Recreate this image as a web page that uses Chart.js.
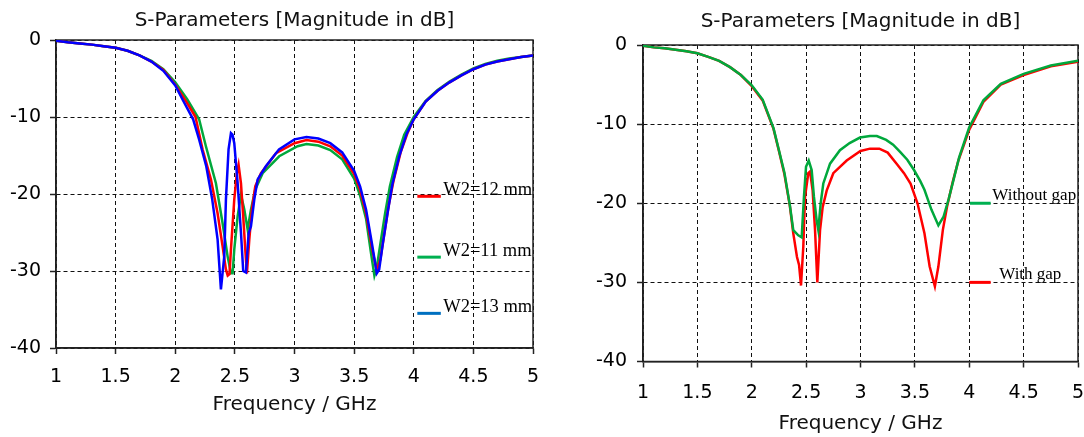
<!DOCTYPE html>
<html>
<head>
<meta charset="utf-8">
<script src="https://cdn.jsdelivr.net/npm/chart.js@4.4.1/dist/chart.umd.min.js"></script>
<style>
  body { margin: 0; background: #fff; }
  #kiri { position: absolute; left: 0; top: 0; }
  #kanan { position: absolute; left: 545px; top: 0; }
</style>
</head>
<body>
<canvas id="kiri" width="545" height="437"></canvas>
<canvas id="kanan" width="539" height="437"></canvas>
<script>
// tick labels
const xTicks = [1, 1.5, 2, 2.5, 3, 3.5, 4, 4.5, 5];
const yTicks = [-40, -30, -20, -10, 0];

// kiri: W2 = 13 mm (biru)
const fW13 = [1.0, 1.1, 1.2, 1.3, 1.4, 1.5, 1.6, 1.7, 1.8, 1.9, 2.0, 2.06, 2.15, 2.2, 2.26, 2.31, 2.355, 2.383, 2.411, 2.425, 2.447, 2.467, 2.48, 2.495, 2.523, 2.551, 2.57, 2.593, 2.615, 2.635, 2.663, 2.691, 2.76, 2.87, 3.0, 3.1, 3.2, 3.3, 3.4, 3.5, 3.55, 3.6, 3.65, 3.69, 3.71, 3.74, 3.78, 3.82, 3.88, 3.94, 4.0, 4.1, 4.2, 4.3, 4.4, 4.5, 4.6, 4.7, 4.8, 4.9, 5.0];
const dbW13 = [-0.1, -0.3, -0.45, -0.6, -0.8, -1.0, -1.4, -2.0, -2.8, -4.0, -5.9, -7.7, -10.3, -12.9, -16.4, -20.7, -25.9, -32.4, -28.1, -20.7, -14.2, -12.1, -12.3, -13.4, -18.6, -25.0, -30.0, -30.2, -25.1, -24.2, -20.7, -18.1, -16.4, -14.2, -12.9, -12.6, -12.8, -13.4, -14.6, -17.0, -19.0, -22.0, -26.5, -30.3, -29.8, -26.5, -22.5, -18.8, -15.0, -12.2, -10.3, -8.0, -6.6, -5.5, -4.6, -3.8, -3.2, -2.8, -2.5, -2.2, -2.0];

// kiri: W2 = 12 mm (merah)
const fW12 = [1.0, 1.1, 1.2, 1.3, 1.4, 1.5, 1.6, 1.7, 1.8, 1.9, 2.0, 2.1, 2.17, 2.229, 2.299, 2.355, 2.397, 2.425, 2.44, 2.455, 2.467, 2.495, 2.517, 2.531, 2.551, 2.57, 2.587, 2.601, 2.621, 2.643, 2.671, 2.719, 2.845, 3.0, 3.1, 3.2, 3.3, 3.4, 3.5, 3.55, 3.6, 3.65, 3.69, 3.72, 3.75, 3.79, 3.83, 3.89, 3.95, 4.0, 4.1, 4.2, 4.3, 4.4, 4.5, 4.6, 4.7, 4.8, 4.9, 5.0];
const dbW12 = [-0.1, -0.3, -0.45, -0.6, -0.8, -1.0, -1.4, -2.0, -2.8, -3.9, -5.8, -8.2, -10.0, -14.2, -18.1, -22.5, -26.8, -29.8, -30.6, -30.4, -27.2, -20.7, -17.3, -16.2, -18.6, -22.9, -27.2, -30.3, -25.9, -22.0, -19.0, -17.3, -14.7, -13.4, -13.0, -13.2, -13.8, -15.0, -17.4, -19.5, -22.5, -27.0, -30.0, -28.5, -25.5, -21.5, -18.3, -14.6, -12.0, -10.3, -8.0, -6.6, -5.5, -4.6, -3.8, -3.2, -2.8, -2.5, -2.2, -2.0];

// kiri: W2 = 11 mm (hijau)
const fW11 = [1.0, 1.1, 1.2, 1.3, 1.4, 1.5, 1.6, 1.7, 1.8, 1.9, 2.0, 2.1, 2.2, 2.257, 2.341, 2.397, 2.439, 2.467, 2.481, 2.495, 2.523, 2.551, 2.579, 2.607, 2.635, 2.671, 2.733, 2.872, 3.026, 3.1, 3.2, 3.3, 3.4, 3.5, 3.55, 3.6, 3.64, 3.67, 3.69, 3.72, 3.76, 3.8, 3.86, 3.92, 4.0, 4.1, 4.2, 4.3, 4.4, 4.5, 4.6, 4.7, 4.8, 4.9, 5.0];
const dbW11 = [-0.1, -0.3, -0.45, -0.6, -0.8, -1.0, -1.4, -2.0, -2.7, -3.8, -5.5, -7.7, -10.3, -13.8, -18.6, -23.8, -28.1, -30.3, -30.3, -27.2, -22.9, -20.1, -22.0, -24.6, -22.0, -19.4, -17.3, -15.1, -13.8, -13.5, -13.7, -14.3, -15.5, -18.0, -20.2, -23.2, -27.5, -30.6, -29.5, -26.5, -22.5, -19.0, -15.2, -12.3, -10.0, -7.9, -6.5, -5.4, -4.5, -3.7, -3.1, -2.7, -2.4, -2.2, -2.0];

// kanan: With gap (merah)
const fGap = [1.0, 1.1, 1.2, 1.3, 1.4, 1.5, 1.6, 1.7, 1.8, 1.9, 2.0, 2.1, 2.2, 2.25, 2.3, 2.35, 2.382, 2.416, 2.435, 2.453, 2.474, 2.49, 2.52, 2.536, 2.56, 2.582, 2.603, 2.628, 2.652, 2.689, 2.75, 2.873, 3.0, 3.087, 3.173, 3.25, 3.332, 3.4, 3.46, 3.524, 3.588, 3.636, 3.684, 3.716, 3.757, 3.796, 3.85, 3.9, 4.0, 4.13, 4.29, 4.5, 4.75, 5.0];
const dbGap = [-0.1, -0.3, -0.4, -0.6, -0.8, -1.05, -1.5, -2.0, -2.8, -3.8, -5.2, -7.0, -10.6, -13.4, -16.3, -20.3, -23.8, -26.8, -27.8, -30.4, -25.5, -19.2, -16.2, -16.0, -18.4, -23.4, -30.0, -23.4, -20.5, -18.4, -16.2, -14.6, -13.4, -13.1, -13.1, -13.6, -15.0, -16.2, -17.5, -20.0, -23.8, -28.0, -30.5, -28.0, -23.4, -20.4, -17.2, -14.6, -10.7, -7.2, -5.0, -3.8, -2.7, -2.1];

// kanan: Without gap (hijau)
const fNoGap = [1.0, 1.1, 1.2, 1.3, 1.4, 1.5, 1.6, 1.7, 1.8, 1.9, 2.0, 2.1, 2.2, 2.25, 2.3, 2.35, 2.382, 2.428, 2.459, 2.48, 2.499, 2.524, 2.551, 2.572, 2.597, 2.612, 2.634, 2.658, 2.72, 2.811, 2.9, 2.995, 3.087, 3.15, 3.236, 3.3, 3.364, 3.43, 3.492, 3.55, 3.588, 3.652, 3.716, 3.764, 3.812, 3.86, 3.907, 4.0, 4.13, 4.29, 4.5, 4.75, 5.0];
const dbNoGap = [-0.1, -0.3, -0.4, -0.6, -0.8, -1.05, -1.5, -2.0, -2.8, -3.8, -5.1, -6.9, -10.5, -13.3, -16.1, -20.2, -23.4, -24.05, -24.3, -19.2, -15.4, -14.6, -15.8, -19.2, -22.2, -23.4, -20.0, -17.5, -15.0, -13.3, -12.4, -11.7, -11.5, -11.5, -12.0, -12.6, -13.5, -14.5, -15.8, -17.2, -18.3, -20.8, -22.8, -21.7, -19.4, -16.8, -14.2, -10.4, -7.0, -4.9, -3.65, -2.6, -2.0];

const FONT = 'DejaVu Sans';
const titleText = 'S-Parameters [Magnitude in dB]';

function titik(fs, ds) {
  return fs.map((f, i) => ({ x: f, y: ds[i] }));
}

function garis(label, fs, ds, warna) {
  return {
    label: label,
    data: titik(fs, ds),
    borderColor: warna,
    borderWidth: 2.5,
    pointRadius: 0,
    tension: 0,
    fill: false
  };
}

// kotak hitam di sekeliling area plot
const bingkai = {
  id: 'bingkai',
  beforeDatasetsDraw(chart) {
    const a = chart.chartArea;
    const ctx = chart.ctx;
    ctx.save();
    ctx.strokeStyle = '#222';
    ctx.lineWidth = 1.5;
    ctx.strokeRect(a.left, a.top, a.right - a.left, a.bottom - a.top);
    ctx.restore();
  }
};

// legenda di dalam plot (garis pendek + teks)
const legendaDalam = {
  id: 'legendaDalam',
  afterDatasetsDraw(chart, args, opts) {
    const ctx = chart.ctx;
    const sx = chart.scales.x, sy = chart.scales.y;
    opts.items.forEach(it => {
      const yy = sy.getPixelForValue(it.at);
      ctx.save();
      ctx.strokeStyle = it.color;
      ctx.lineWidth = 3;
      ctx.beginPath();
      ctx.moveTo(sx.getPixelForValue(it.from), yy);
      ctx.lineTo(sx.getPixelForValue(it.to), yy);
      ctx.stroke();
      ctx.fillStyle = '#000';
      ctx.font = opts.size + 'px "Liberation Serif"';
      ctx.textBaseline = 'alphabetic';
      ctx.textAlign = 'left';
      ctx.fillText(it.text, sx.getPixelForValue(it.textAt), yy + it.dy);
      ctx.restore();
    });
  }
};

function opsi(c) {
  return {
    responsive: false,
    animation: false,
    layout: { padding: { left: 0, right: c.padRight, top: 0, bottom: 0 } },
    plugins: {
      legend: { display: false },
      tooltip: { enabled: false },
      title: {
        display: true,
        text: titleText,
        fullSize: false,
        color: '#111',
        font: { family: FONT, size: 20, weight: 'normal' },
        padding: { top: c.titleTop, bottom: c.titleBottom }
      },
      legendaDalam: { size: c.legendSize, items: c.legend }
    },
    scales: {
      x: {
        type: 'linear',
        min: 1,
        max: 5,
        afterBuildTicks: s => { s.ticks = xTicks.map(v => ({ value: v })); },
        afterFit: s => { s.height = c.xHeight; s.paddingLeft = 0; s.paddingRight = 0; },
        ticks: {
          color: '#000', padding: 0, maxRotation: 0,
          font: { family: FONT, size: 19, lineHeight: c.xLine },
          callback: v => String(v)
        },
        grid: { color: '#111', lineWidth: 1, tickLength: 6, tickColor: '#222', tickWidth: 1.5, tickBorderDash: [] },
        border: { display: true, color: '#222', width: 1.5, dash: [4, 3] },
        title: {
          display: true,
          text: 'Frequency / GHz',
          color: '#111',
          font: { family: FONT, size: 20 },
          padding: { top: 0, bottom: c.xTitlePad }
        }
      },
      y: {
        min: -40,
        max: 0,
        afterBuildTicks: s => { s.ticks = yTicks.map(v => ({ value: v })); },
        afterFit: s => { s.width = c.yWidth; },
        ticks: { color: '#000', padding: c.yTickPad, font: { family: FONT, size: 19 }, callback: v => String(v) },
        grid: { color: '#111', lineWidth: 1, tickLength: 6, tickColor: '#222', tickWidth: 1.5, tickBorderDash: [] },
        border: { display: true, color: '#222', width: 1.5, dash: [4, 3] }
      }
    }
  };
}

new Chart(document.getElementById('kiri').getContext('2d'), {
  type: 'line',
  data: {
    datasets: [
      garis('W2=13 mm', fW13, dbW13, '#0000ff'),
      garis('W2=12 mm', fW12, dbW12, '#ff0000'),
      garis('W2=11 mm', fW11, dbW11, '#00a83c')
    ]
  },
  options: opsi({
    padRight: 12, titleTop: 9, titleBottom: 7, xHeight: 89, xLine: 2.38, xTitlePad: 20,
    yWidth: 56, yTickPad: 9, legendSize: 18.5,
    legend: [
      { text: 'W2=12 mm', color: '#ff0000', at: -20.3, from: 4.03, to: 4.227, textAt: 4.247, dy: -1 },
      { text: 'W2=11 mm', color: '#00b050', at: -28.2, from: 4.03, to: 4.227, textAt: 4.247, dy: -1 },
      { text: 'W2=13 mm', color: '#0070c0', at: -35.5, from: 4.03, to: 4.227, textAt: 4.247, dy: -1 }
    ]
  }),
  plugins: [bingkai, legendaDalam]
});

new Chart(document.getElementById('kanan').getContext('2d'), {
  type: 'line',
  data: {
    datasets: [
      garis('Without gap', fNoGap, dbNoGap, '#00a83c'),
      garis('With gap', fGap, dbGap, '#ff0000')
    ]
  },
  options: opsi({
    padRight: 6, titleTop: 10, titleBottom: 11, xHeight: 75.5, xLine: 2.64, xTitlePad: 1,
    yWidth: 98, yTickPad: 10, legendSize: 17,
    legend: [
      { text: 'Without gap', color: '#00b050', at: -20, from: 4.007, to: 4.197, textAt: 4.212, dy: -3 },
      { text: 'With gap', color: '#ff0000', at: -30, from: 4.0, to: 4.197, textAt: 4.276, dy: -3 }
    ]
  }),
  plugins: [bingkai, legendaDalam]
});
</script>
</body>
</html>
